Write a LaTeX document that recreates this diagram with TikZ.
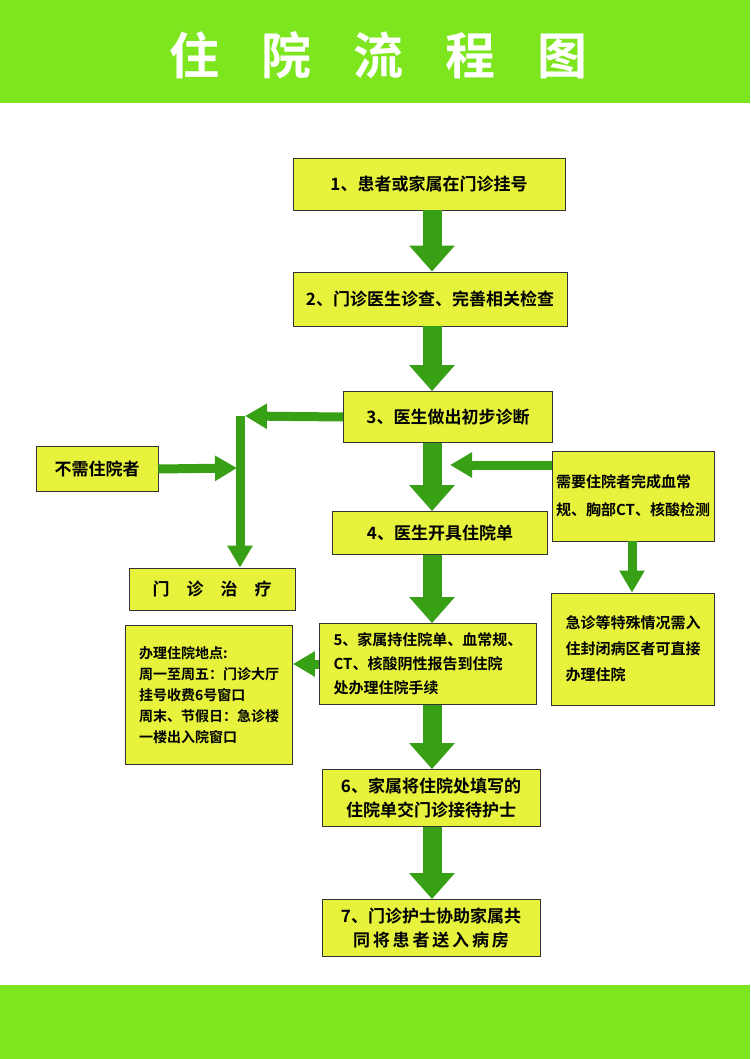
\documentclass[tikz,border=0pt]{standalone}
\usepackage{fontspec}
\newfontfamily\cjk{Noto Sans CJK SC}[BoldFont={Noto Sans CJK SC Bold}]
\usetikzlibrary{arrows.meta,shadows}
\definecolor{band}{RGB}{125,230,30}
\definecolor{boxy}{RGB}{230,242,60}
\definecolor{arrg}{RGB}{55,160,20}
\tikzset{
  stepbox/.style={draw=black!80, fill=boxy, line width=0.8pt, align=center, font=\cjk\bfseries\fontsize{17}{24}\selectfont, inner sep=0pt},
  bigarrow/.style={draw=arrg, line width=19pt, -{Triangle[width=44pt,length=26pt]}},
  sidearrow/.style={draw=arrg, line width=9pt, -{Triangle[width=24pt,length=22pt]}}
}
\begin{document}
\begin{tikzpicture}[x=1pt, y=-1pt]
    \useasboundingbox (0,0) rectangle (750,1059);
    \fill[white] (0,0) rectangle (750,1059);
    \fill[band] (0,0) rectangle (750,103);
    \fill[band] (0,985) rectangle (750,1059);
    \node (title) at (378,55) {\cjk\bfseries\fontsize{50}{56}\selectfont\color{white}住\hspace{42pt}院\hspace{42pt}流\hspace{42pt}程\hspace{42pt}图};
    % main column
    \node (s1) [stepbox, minimum width=272pt, minimum height=52pt] at (429,184) {1、患者或家属在门诊挂号};
    \node (s2) [stepbox, minimum width=274pt, minimum height=54pt] at (430,299) {2、门诊医生诊查、完善相关检查};
    \node (s3) [stepbox, minimum width=209pt, minimum height=51pt] at (448,417) {3、医生做出初步诊断};
    \node (s4) [stepbox, minimum width=215pt, minimum height=43pt] at (440,533) {4、医生开具住院单};
    \node (s5) [stepbox, minimum width=217pt, minimum height=81pt, align=left, font=\cjk\bfseries\fontsize{15}{24}\selectfont] at (428,664) {5、家属持住院单、血常规、\\CT、核酸阴性报告到住院\\处办理住院手续};
    \node (s6) [stepbox, minimum width=218pt, minimum height=57pt] at (431,798) {6、家属将住院处填写的\\住院单交门诊接待护士};
    \node (s7) [stepbox, minimum width=218pt, minimum height=57pt] at (431,928) {7、门诊护士协助家属共\\同\,将\,患\,者\,送\,入\,病\,房};
    % side boxes
    \node (nozy) [stepbox, minimum width=122pt, minimum height=45pt] at (97,469) {不需住院者};
    \node (mzzl) [stepbox, minimum width=166pt, minimum height=42pt] at (212,589) {门\quad 诊\quad 治\quad 疗};
    \node (need) [stepbox, minimum width=162pt, minimum height=90pt, align=left, font=\cjk\bfseries\fontsize{15}{28}\selectfont] at (633,496) {需要住院者完成血常\\规、胸部CT、核酸检测};
    \node (place) [stepbox, minimum width=167pt, minimum height=139pt, align=left, font=\cjk\bfseries\fontsize{14}{21}\selectfont] at (209,695) {办理住院地点:\\周一至周五：门诊大厅\\挂号收费6号窗口\\周末、节假日：急诊楼\\一楼出入院窗口};
    \node (emer) [stepbox, minimum width=163pt, minimum height=112pt, align=left, font=\cjk\bfseries\fontsize{15}{26}\selectfont] at (633,649) {急诊等特殊情况需入\\住封闭病区者可直接\\办理住院};
    % connectors
    \coordinate (turn) at (240,416);
    \coordinate (join) at (237,468);
    \coordinate (left3) at (245,416);
    \coordinate (into4) at (450,465);
    \draw[bigarrow] (s1.south -| 432,0) -- (s2.north -| 432,0);
    \draw[bigarrow] (s2.south -| 432,0) -- (s3.north -| 432,0);
    \draw[bigarrow] (s3.south -| 432,0) -- (s4.north -| 432,0);
    \draw[bigarrow] (s4.south -| 432,0) -- (s5.north -| 432,0);
    \draw[bigarrow] (s5.south -| 432,0) -- (s6.north -| 432,0);
    \draw[bigarrow] (s6.south -| 432,0) -- (s7.north -| 432,0);
    \draw[sidearrow] (s3.west) -- (left3);
    \draw[sidearrow] (nozy.east) -- (join);
    \draw[sidearrow] (turn) -- (mzzl.north -| turn);
    \draw[sidearrow] (need.west |- into4) -- (into4);
    \draw[sidearrow] (need.south -| 632,0) -- (emer.north -| 632,0);
    \draw[sidearrow] (s5.west) -- (place.east |- s5.west);
\end{tikzpicture}
\end{document}
